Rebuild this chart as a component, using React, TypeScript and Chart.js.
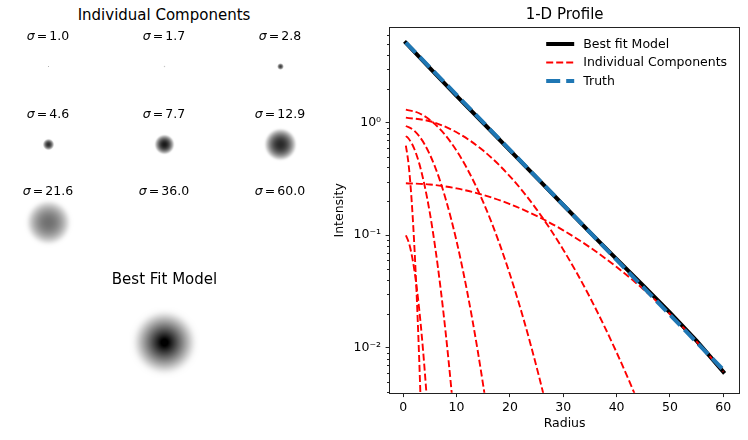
import React, { useEffect, useRef } from 'react';
import { Chart, registerables } from 'chart.js';

Chart.register(...registerables);

const FONT = "'DejaVu Sans', 'Liberation Sans', sans-serif";
const AXIS = '#222222';

// ---------- Component parameters (panel titles) ----------
const sigmas = [1.0, 1.7, 2.8, 4.6, 7.7, 12.9, 21.6, 36.0, 60.0];
// central darkness of each component image (0 = white, 1 = black)
const imagePeak = [0.3, 0.22, 0.75, 0.82, 0.9, 0.84, 0.56, 0, 0];
// best-fit model image: central darkness (saturates to black) and visible radius in px
const modelImagePeak = 1.12;
const modelImageRadius = 31;

// ---------- 1-D profile: individual components ----------
const comp1Radius = [0.5, 1, 1.5, 2, 2.5, 3, 3.5];
const comp1Intensity = [0.627, 0.431, 0.2305, 0.0961, 0.0312, 0.00789, 0.00155];

const comp2Radius = [0.5, 1, 1.5, 2, 2.5, 3, 3.5, 4, 4.5, 5];
const comp2Intensity = [0.0996, 0.0875, 0.0705, 0.0521, 0.0353, 0.0219, 0.0125, 0.00653, 0.00313, 0.00138];

const comp3Radius = [0.5, 1, 2, 3, 4, 5, 6, 7, 8, 9, 10];
const comp3Intensity = [0.76, 0.724, 0.598, 0.435, 0.278, 0.157, 0.0777, 0.0339, 0.01303, 0.00441, 0.00131];

const comp4Radius = [0.5, 2, 4, 6, 8, 10, 12, 14, 16, 18];
const comp4Intensity = [0.935, 0.855, 0.644, 0.401, 0.207, 0.0885, 0.0313, 0.00917, 0.00222, 0.000445];

const comp5Radius = [0.5, 3, 6, 9, 12, 15, 18, 21, 24, 27, 30];
const comp5Intensity = [1.307, 1.214, 0.967, 0.662, 0.389, 0.1967, 0.0853, 0.0318, 0.01018, 0.0028, 0.00066];

const comp6Radius = [0.5, 5, 10, 15, 20, 25, 30, 35, 40, 45, 50];
const comp6Intensity = [1.11, 1.03, 0.822, 0.565, 0.334, 0.1697, 0.0743, 0.028, 0.00907, 0.00253, 0.000607];

const comp7Radius = [0.5, 5, 10, 15, 20, 25, 30, 35, 40, 45, 50, 55, 60];
const comp7Intensity = [0.29, 0.2823, 0.2605, 0.2279, 0.1889, 0.1484, 0.1105, 0.078, 0.0522, 0.0331, 0.0199, 0.01134, 0.00612];

// ---------- 1-D profile: best fit model and truth ----------
const modelRadius = [0.5, 5, 10, 15, 20, 25, 30, 35, 40, 45, 50, 55, 60];
const modelIntensity = [5.13, 3.05, 1.736, 0.994, 0.568, 0.325, 0.1855, 0.106, 0.0613, 0.0356, 0.0205, 0.0115, 0.0061];

const truthRadius = [0.5, 10, 20, 30, 40, 50, 60];
const truthIntensity = [5.15, 1.767, 0.573, 0.186, 0.0603, 0.0196, 0.00635];

// ---------- axes ----------
const xTicks = [0, 10, 20, 30, 40, 50, 60];
const xLimits = [-2.475, 62.975];
const yMajorTicks = [0.01, 0.1, 1];
const yMinorTicks = [
  0.004, 0.005, 0.006, 0.007, 0.008, 0.009,
  0.02, 0.03, 0.04, 0.05, 0.06, 0.07, 0.08, 0.09,
  0.2, 0.3, 0.4, 0.5, 0.6, 0.7, 0.8, 0.9,
  2, 3, 4, 5, 6,
];
const yLimits = [0.00398, 6.95];

const componentSeries: [number[], number[]][] = [
  [comp1Radius, comp1Intensity],
  [comp2Radius, comp2Intensity],
  [comp3Radius, comp3Intensity],
  [comp4Radius, comp4Intensity],
  [comp5Radius, comp5Intensity],
  [comp6Radius, comp6Intensity],
  [comp7Radius, comp7Intensity],
];

const legendItems = [
  { label: 'Best fit Model', color: '#000000', width: 4, dash: [] as number[] },
  { label: 'Individual Components', color: '#ff0000', width: 1.9, dash: [7, 3] },
  { label: 'Truth', color: '#1f77b4', width: 4, dash: [14, 6] },
];

// image display: pixels per profile unit, logarithmic stretch of the grey scale, edge softness
const PX_PER_UNIT = 0.45;
const LOG_STRETCH = 0.1125;
const EDGE_SOFTNESS = 0.06;

function toXY(xs: number[], ys: number[]) {
  return xs.map((x, i) => ({ x, y: ys[i] }));
}

const SUP: Record<string, string> = { '-': '⁻', '0': '⁰', '1': '¹', '2': '²', '3': '³', '4': '⁴', '5': '⁵', '6': '⁶', '7': '⁷', '8': '⁸', '9': '⁹' };
function logLabel(v: number) {
  const e = Math.round(Math.log10(v));
  return '10' + String(e).split('').map((c) => SUP[c] || c).join('');
}

function softClip(v: number) {
  return EDGE_SOFTNESS * Math.log(1 + Math.exp(v / EDGE_SOFTNESS));
}

function makeImage(R: number, darkness: (r: number) => number): HTMLCanvasElement {
  const size = 2 * R + 1;
  const c = document.createElement('canvas');
  c.width = size;
  c.height = size;
  const g = c.getContext('2d')!;
  const img = g.createImageData(size, size);
  for (let y = 0; y < size; y++) {
    for (let x = 0; x < size; x++) {
      const r = Math.sqrt((x - R) * (x - R) + (y - R) * (y - R));
      const d = Math.max(0, Math.min(1, darkness(r)));
      const k = (y * size + x) * 4;
      img.data[k] = 0;
      img.data[k + 1] = 0;
      img.data[k + 2] = 0;
      img.data[k + 3] = Math.round(255 * d);
    }
  }
  g.putImageData(img, 0, 0);
  return c;
}

function componentImage(peak: number, sigma: number) {
  if (peak <= 0) return makeImage(2, () => 0);
  const s = sigma * PX_PER_UNIT;
  const r0 = s * Math.sqrt(peak / LOG_STRETCH);
  const R = Math.max(2, Math.ceil(r0) + 4);
  if (s < 1) return makeImage(R, (r) => peak - LOG_STRETCH * (r / s) * (r / s));
  return makeImage(R, (r) => softClip(peak - LOG_STRETCH * (r / s) * (r / s)));
}

function modelImage(peak: number, radius: number) {
  return makeImage(Math.ceil(radius) + 4, (r) => softClip(peak * (1 - r / radius)));
}

function BlobPanel(props: { cx: number; cy: number; size: number; image: () => HTMLCanvasElement }) {
  const ref = useRef<HTMLCanvasElement>(null);
  const { cx, cy, size, image } = props;
  useEffect(() => {
    if (!ref.current) return;
    const img = image();
    const chart = new Chart(ref.current, {
      type: 'scatter',
      data: { datasets: [{ data: [{ x: 0, y: 0 }], pointStyle: img as any, pointRadius: 3 }] },
      options: {
        responsive: false,
        animation: false,
        events: [],
        layout: { padding: 0 },
        scales: {
          x: { display: false, min: -1, max: 1 },
          y: { display: false, min: -1, max: 1 },
        },
        plugins: { legend: { display: false }, tooltip: { enabled: false } },
      },
    });
    return () => chart.destroy();
  }, []);
  return (
    <canvas
      ref={ref}
      width={size}
      height={size}
      style={{ position: 'absolute', left: Math.round(cx - size / 2), top: Math.round(cy - size / 2), width: size, height: size }}
    />
  );
}

function ProfileChart() {
  const ref = useRef<HTMLCanvasElement>(null);
  useEffect(() => {
    if (!ref.current) return;
    const datasets: any[] = [];
    datasets.push({
      label: 'Truth',
      data: toXY(truthRadius, truthIntensity),
      borderColor: '#1f77b4',
      borderWidth: 4,
      borderDash: [14, 6],
      borderCapStyle: 'butt',
      pointRadius: 0,
      fill: false,
      order: 0,
    });
    componentSeries.forEach(([r, v], i) => {
      datasets.push({
        label: i === 0 ? 'Individual Components' : '',
        data: toXY(r, v),
        borderColor: '#ff0000',
        borderWidth: 1.9,
        borderDash: [7, 3],
        borderCapStyle: 'butt',
        cubicInterpolationMode: 'monotone',
        pointRadius: 0,
        fill: false,
        order: 1,
      });
    });
    datasets.push({
      label: 'Best fit Model',
      data: toXY(modelRadius, modelIntensity),
      borderColor: '#000000',
      borderWidth: 4,
      borderCapStyle: 'square',
      pointRadius: 0,
      fill: false,
      order: 2,
    });

    const decorPlugin = {
      id: 'decor',
      afterDraw(chart: any) {
        const { ctx, chartArea: ca } = chart;
        const yScale = chart.scales.y;
        ctx.save();
        // frame
        ctx.strokeStyle = AXIS;
        ctx.lineWidth = 1;
        const l = Math.round(ca.left) - 0.5;
        const r = Math.round(ca.right) + 0.5;
        const t = Math.round(ca.top) - 0.5;
        const b = Math.round(ca.bottom) + 0.5;
        ctx.strokeRect(l, t, r - l, b - t);
        // minor ticks
        ctx.beginPath();
        yMinorTicks.forEach((v) => {
          const y = Math.round(yScale.getPixelForValue(v)) + 0.5;
          ctx.moveTo(l - 2.5, y);
          ctx.lineTo(l, y);
        });
        ctx.stroke();
        // title
        ctx.fillStyle = '#000';
        ctx.font = `15px ${FONT}`;
        ctx.textAlign = 'center';
        ctx.textBaseline = 'middle';
        ctx.fillText('1-D Profile', (ca.left + ca.right) / 2, 15.5);
        // legend
        ctx.font = `12.5px ${FONT}`;
        ctx.textAlign = 'left';
        legendItems.forEach((it, i) => {
          const y = ca.top + 16 + i * 18.5;
          ctx.beginPath();
          ctx.strokeStyle = it.color;
          ctx.lineWidth = it.width;
          ctx.setLineDash(it.dash);
          ctx.lineCap = 'butt';
          ctx.moveTo(ca.right - 193, y);
          ctx.lineTo(ca.right - 165, y);
          ctx.stroke();
          ctx.setLineDash([]);
          ctx.fillStyle = '#000';
          ctx.fillText(it.label, ca.right - 156, y + 0.5);
        });
        ctx.restore();
      },
    };

    const chart = new Chart(ref.current, {
      type: 'line',
      data: { datasets },
      options: {
        responsive: false,
        animation: false,
        events: [],
        layout: { padding: { top: 28, right: 8.8, left: 0, bottom: 0 } },
        scales: {
          x: {
            type: 'linear',
            min: xLimits[0],
            max: xLimits[1],
            afterFit: (s: any) => {
              s.height = 47.3;
            },
            afterBuildTicks: (s: any) => {
              s.ticks = xTicks.map((v) => ({ value: v }));
            },
            grid: { display: true, drawOnChartArea: false, drawTicks: true, tickLength: 4.4, tickColor: AXIS, tickWidth: 1 },
            border: { display: false },
            ticks: {
              color: '#000',
              font: { family: FONT, size: 12.5 },
              padding: 3.2,
              maxRotation: 0,
              autoSkip: false,
              callback: (v: any) => String(v),
            },
            title: {
              display: true,
              text: 'Radius',
              color: '#000',
              font: { family: FONT, size: 12.5 },
              padding: { top: 0, bottom: 9 },
            },
          },
          y: {
            type: 'logarithmic',
            min: yLimits[0],
            max: yLimits[1],
            afterFit: (s: any) => {
              s.width = 60;
            },
            afterBuildTicks: (s: any) => {
              s.ticks = yMajorTicks.map((v) => ({ value: v, major: true }));
            },
            grid: { display: true, drawOnChartArea: false, drawTicks: true, tickLength: 4.4, tickColor: AXIS, tickWidth: 1 },
            border: { display: false },
            ticks: {
              color: '#000',
              font: { family: FONT, size: 12.5 },
              padding: 4.5,
              autoSkip: false,
              callback: (v: any) => logLabel(Number(v)),
            },
            title: {
              display: true,
              text: 'Intensity',
              color: '#000',
              font: { family: FONT, size: 12.5 },
              padding: { top: 2.5, bottom: 0 },
            },
          },
        },
        plugins: { legend: { display: false }, tooltip: { enabled: false } },
      } as any,
      plugins: [decorPlugin],
    });
    return () => chart.destroy();
  }, []);
  return (
    <canvas
      ref={ref}
      width={418}
      height={440}
      style={{ position: 'absolute', left: 330, top: 0, width: 418, height: 440 }}
    />
  );
}

const textStyle = (cx: number, cy: number, size: number): React.CSSProperties => ({
  position: 'absolute',
  left: cx,
  top: cy,
  transform: 'translate(-50%, -50%)',
  whiteSpace: 'nowrap',
  fontFamily: FONT,
  fontSize: size,
  color: '#000',
  lineHeight: 1,
  zIndex: 2,
});

export default function App() {
  const colX = [48, 164, 280];
  const labelY = [35.8, 113.5, 191.2];
  return (
    <div style={{ position: 'absolute', left: 0, top: 0, width: 748, height: 440, background: '#fff', overflow: 'hidden' }}>
      <div style={textStyle(164, 15, 15)}>Individual Components</div>
      {sigmas.map((s, i) => {
        const cx = colX[i % 3];
        const ly = labelY[Math.floor(i / 3)];
        return (
          <React.Fragment key={i}>
            <div style={textStyle(cx, ly, 12.5)}>
              <span style={{ fontStyle: 'italic' }}>σ</span>
              <span style={{ margin: '0 2px' }}>=</span>
              {s.toFixed(1)}
            </div>
            <BlobPanel cx={cx} cy={ly + 31} size={85} image={() => componentImage(imagePeak[i], s)} />
          </React.Fragment>
        );
      })}
      <div style={textStyle(164.5, 278.5, 15)}>Best Fit Model</div>
      <BlobPanel cx={164.5} cy={342} size={95} image={() => modelImage(modelImagePeak, modelImageRadius)} />
      <ProfileChart />
    </div>
  );
}
